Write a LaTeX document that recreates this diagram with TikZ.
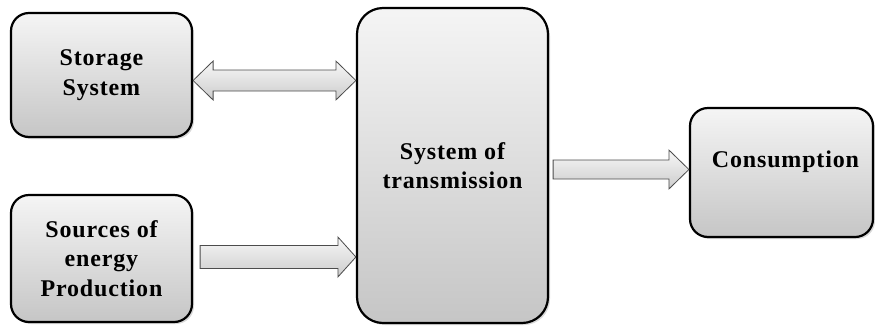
\documentclass[tikz,border=0pt]{standalone}
\usepackage{fontspec}
\setmainfont{Liberation Serif}[LetterSpace=3.5]
\usetikzlibrary{calc,shadows}
\begin{document}
\begin{tikzpicture}[x=1pt,y=-1pt,
  box/.style={draw=black, line width=2.2pt, fill=gray!20,
    top color=gray!8, bottom color=gray!45, rounded corners=18pt,
    drop shadow={shadow xshift=2pt, shadow yshift=-2pt, opacity=0.3},
    inner sep=0pt, align=center, font=\fontsize{24}{29.5}\selectfont\bfseries},
  lbl/.style={align=center, font=\fontsize{24}{29.5}\selectfont\bfseries},
  arr/.style={draw=gray!60!black, line width=0.8pt, top color=gray!6, bottom color=gray!40}]
\useasboundingbox (0,0) rectangle (875,325);
\node[box, minimum width=181pt, minimum height=124pt] (stor) at (101.5,75) {Storage\\System};
\node[box, minimum width=181pt, minimum height=127pt] (src) at (101.5,258.5) {Sources of\\energy\\Production};
\node[box, minimum width=191pt, minimum height=315pt, rounded corners=26pt] (trans) at (452.5,165.5) {System of\\transmission};
\node[box, minimum width=183pt, minimum height=129pt] (cons) at (781.5,172.5) {};
\node[lbl] (consl) at ($(cons)+(4,-11)$) {Consumption};
% double arrow storage <-> transmission
\coordinate (a1) at ($(stor.east)+(0,5.5)$);
\coordinate (b1) at (trans.west |- a1);
\path[arr] let \p1=(a1), \p2=(b1) in
  (\x1,\y1) -- (\x1+20pt,\y1+19.5pt) -- (\x1+20pt,\y1+10.5pt) -- (\x2-20pt,\y1+10.5pt)
  -- (\x2-20pt,\y1+19.5pt) -- (\x2,\y1) -- (\x2-20pt,\y1-19.5pt) -- (\x2-20pt,\y1-10.5pt)
  -- (\x1+20pt,\y1-10.5pt) -- (\x1+20pt,\y1-19.5pt) -- cycle;
% sources -> transmission
\coordinate (a2) at ($(src.east)+(7,-1.5)$);
\coordinate (b2) at (trans.west |- a2);
\path[arr] let \p1=(a2), \p2=(b2) in
  (\x1,\y1+11.5pt) -- (\x2-18pt,\y1+11.5pt) -- (\x2-18pt,\y1+20pt) -- (\x2,\y1)
  -- (\x2-18pt,\y1-20pt) -- (\x2-18pt,\y1-11.5pt) -- (\x1,\y1-11.5pt) -- cycle;
% transmission -> consumption
\coordinate (a3) at ($(trans.east)+(4,4)$);
\coordinate (b3) at (cons.west |- a3);
\path[arr] let \p1=(a3), \p2=(b3) in
  (\x1,\y1+9.5pt) -- (\x2-20pt,\y1+9.5pt) -- (\x2-20pt,\y1+19.5pt) -- (\x2,\y1)
  -- (\x2-20pt,\y1-19.5pt) -- (\x2-20pt,\y1-9.5pt) -- (\x1,\y1-9.5pt) -- cycle;
\end{tikzpicture}
\end{document}
